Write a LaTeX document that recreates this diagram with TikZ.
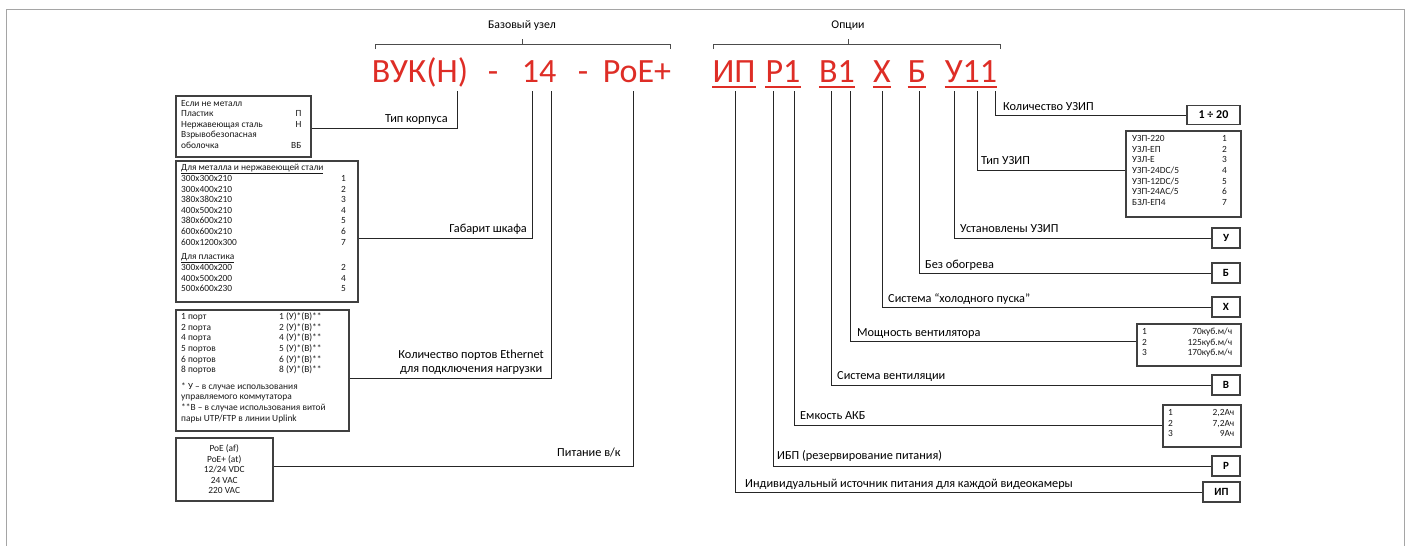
\documentclass[tikz,border=0pt]{standalone}
\usepackage{fontspec}
\setmainfont{Carlito}
\usetikzlibrary{calc}
\definecolor{codered}{RGB}{222,45,38}
\definecolor{framegray}{RGB}{165,165,165}
\begin{document}
\begin{tikzpicture}[x=1pt,y=-1pt,
  conn/.style={draw=black!85, line width=1pt},
  boxst/.style={draw=black!75, line width=1.5pt, fill=white, inner sep=0pt, anchor=north west},
  btxt/.style={inner sep=0pt, anchor=north west, font=\fontsize{9.4}{10.6}\selectfont, text=black!90},
  lbl/.style={inner sep=0pt, anchor=base west, font=\fontsize{12.3}{14}\selectfont, text=black},
  code/.style={inner sep=0pt, anchor=base, text=codered, font=\fontsize{34}{34}\selectfont},
  uline/.style={draw=codered, line width=1.8pt},
  hdr/.style={inner sep=0pt, anchor=base, font=\fontsize{11.8}{13}\selectfont},
  brk/.style={draw=black!70, line width=0.8pt},
  letterbox/.style={draw=black!75, line width=1.5pt, fill=white, inner sep=0pt, minimum width=28pt, minimum height=20pt, font=\bfseries\fontsize{11}{12}\selectfont, anchor=center}
]
\useasboundingbox (0,0) rectangle (1408,546);
\draw[framegray, line width=1.5pt] (6.5,546) -- (6.5,9.5) -- (1404.5,9.5) -- (1404.5,546);

% headers and brackets
\node[hdr] (hb) at (522,28) {Базовый узел};
\draw[brk] (375,49) -- (375,44) -- (670,44) -- (670,49);
\draw[brk] (522,44) -- (522,39);
\node[hdr] (ho) at (848,28) {Опции};
\draw[brk] (713,49) -- (713,44) -- (1000,44) -- (1000,49);
\draw[brk] (848,44) -- (848,39);

% code
\node[code] (c1) at (420,82) {ВУК(Н)};
\node[code] (d1) at (493,82) {-};
\node[code] (c2) at (539,82) {14};
\node[code] (d2) at (583,82) {-};
\node[code] (c3) at (637,82) {PoE+};
\node[code] (o1) at (734,82) {ИП};
\node[code] (o2) at (783,82) {Р1};
\node[code] (o3) at (837,82) {В1};
\node[code] (o4) at (882,82) {Х};
\node[code] (o5) at (917,82) {Б};
\node[code] (o6) at (971,82) {У11};
\foreach \n in {o1,o2,o3,o4,o5,o6}
  \draw[uline] ([yshift=-5pt]\n.base west) -- ([yshift=-5pt]\n.base east);

% left boxes
\node[boxst, minimum width=135pt, minimum height=61pt] (b1) at (175,95) {};
\node[btxt] (b1t) at (181,98.5) {\begin{tabular}{@{}p{110pt}@{}r@{}}
Если не металл & \\
Пластик & П\\
Нержавеющая сталь & Н\\
Взрывобезопасная & \\
оболочка & ВБ
\end{tabular}};

\node[boxst, minimum width=182pt, minimum height=141pt] (b2) at (175,160) {};
\node[btxt] (b2t) at (181,163) {\begin{tabular}{@{}p{160pt}@{}r@{}}
\multicolumn{2}{@{}l@{}}{\underline{Для металла и нержавеющей стали}}\\
300x300x210 & 1\\
300x400x210 & 2\\
380x380x210 & 3\\
400x500x210 & 4\\
380x600x210 & 5\\
600x600x210 & 6\\
600x1200x300 & 7\\[4pt]
\multicolumn{2}{@{}l@{}}{\underline{Для пластика}}\\
300x400x200 & 2\\
400x500x200 & 4\\
500x600x230 & 5
\end{tabular}};

\node[boxst, minimum width=173pt, minimum height=121pt] (b3) at (175,309) {};
\node[btxt] (b3t) at (181,312) {\begin{tabular}{@{}p{98pt}@{}l@{}}
1 порт & 1 (У)*(В)**\\
2 порта & 2 (У)*(В)**\\
4 порта & 4 (У)*(В)**\\
5 портов & 5 (У)*(В)**\\
6 портов & 6 (У)*(В)**\\
8 портов & 8 (У)*(В)**\\[6pt]
\multicolumn{2}{@{}l@{}}{* У – в случае использования}\\
\multicolumn{2}{@{}l@{}}{управляемого коммутатора}\\
\multicolumn{2}{@{}l@{}}{**В – в случае использования витой}\\
\multicolumn{2}{@{}l@{}}{пары UTP/FTP в линии Uplink}
\end{tabular}};

\node[boxst, minimum width=97pt, minimum height=63pt] (b4) at (175,437) {};
\node[btxt, anchor=center, align=center] (b4t) at (b4.center) {PoE (af)\\PoE+ (at)\\12/24 VDC\\24 VAC\\220 VAC};

% left connectors
\coordinate (v1) at (457,91);
\coordinate (v2) at (532,91);
\coordinate (v3) at (551,91);
\coordinate (v4) at (633,91);
\draw[conn] (v1) |- ([yshift=-2pt]b1.east);
\draw[conn] (v2) |- ([yshift=-7.5pt]b2.east);
\draw[conn] (v3) |- ([yshift=-8.5pt]b3.east);
\draw[conn] (v4) |- ([yshift=2.5pt]b4.east);

\node[lbl] (l1) at (385,122) {Тип корпуса};
\node[lbl, anchor=base east] (l2) at (527,232) {Габарит шкафа};
\node[lbl, anchor=south east, align=center] (l3) at (544,375) {Количество портов Ethernet\\для подключения нагрузки};
\node[lbl] (l4) at (557,456) {Питание в/к};

% right boxes
\node[letterbox, minimum width=53pt, minimum height=19pt, font=\bfseries\fontsize{12}{13}\selectfont] (q20) at (1213.5,115) {1 ÷ 20};
\node[boxst, minimum width=115pt, minimum height=86pt] (bu) at (1125,130) {};
\node[btxt] (but) at (1132,134) {\begin{tabular}{@{}p{90pt}@{}r@{}}
УЗП-220 & 1\\
УЗЛ-ЕП & 2\\
УЗЛ-Е & 3\\
УЗП-24DC/5 & 4\\
УЗП-12DC/5 & 5\\
УЗП-24AC/5 & 6\\
БЗЛ-ЕП4 & 7
\end{tabular}};
\node[letterbox] (bU) at (1226,238) {У};
\node[letterbox] (bB) at (1226,273) {Б};
\node[letterbox] (bX) at (1226,307) {Х};
\node[boxst, minimum width=104pt, minimum height=42pt] (bf) at (1136,323) {};
\node[btxt] (bft) at (1142,327) {\begin{tabular}{@{}p{12pt}@{}l@{}}
1 & \makebox[78pt][r]{70куб.м/ч}\\
2 & \makebox[78pt][r]{125куб.м/ч}\\
3 & \makebox[78pt][r]{170куб.м/ч}
\end{tabular}};
\node[letterbox] (bV) at (1226,385) {В};
\node[boxst, minimum width=78pt, minimum height=42pt] (ba) at (1162,404) {};
\node[btxt] (bat) at (1168,408) {\begin{tabular}{@{}p{12pt}@{}l@{}}
1 & \makebox[54pt][r]{2,2Ач}\\
2 & \makebox[54pt][r]{7,2Ач}\\
3 & \makebox[54pt][r]{9Ач}
\end{tabular}};
\node[letterbox] (bR) at (1226,466) {Р};
\node[letterbox, minimum width=37pt] (bIP) at (1221.5,492) {ИП};

% right connectors
\coordinate (w1) at (995,91);
\coordinate (w2) at (977,91);
\coordinate (w3) at (954,91);
\coordinate (w4) at (919,91);
\coordinate (w5) at (882,91);
\coordinate (w6) at (850,91);
\coordinate (w7) at (831,91);
\coordinate (w8) at (794,91);
\coordinate (w9) at (773,91);
\coordinate (w10) at (735,91);
\draw[conn] (w1) |- (q20.west);
\draw[conn] (w2) |- ([yshift=3pt]bu.west);
\draw[conn] (w3) |- (bU.west);
\draw[conn] (w4) |- (bB.west);
\draw[conn] (w5) |- (bX.west);
\draw[conn] (w6) |- ([yshift=3pt]bf.west);
\draw[conn] (w7) |- (bV.west);
\draw[conn] (w8) |- (ba.west);
\draw[conn] (w9) |- (bR.west);
\draw[conn] (w10) |- (bIP.west);

\node[lbl] (r1) at (1003,110) {Количество УЗИП};
\node[lbl] (r2) at (981,164) {Тип УЗИП};
\node[lbl] (r3) at (960,232) {Установлены УЗИП};
\node[lbl] (r4) at (925,268) {Без обогрева};
\node[lbl] (r5) at (888,302) {Система “холодного пуска”};
\node[lbl] (r6) at (857,336) {Мощность вентилятора};
\node[lbl] (r7) at (837,379) {Система вентиляции};
\node[lbl] (r8) at (800,419) {Емкость АКБ};
\node[lbl] (r9) at (777,459) {ИБП (резервирование питания)};
\node[lbl] (r10) at (745,487) {Индивидуальный источник питания для каждой видеокамеры};
\end{tikzpicture}
\end{document}
